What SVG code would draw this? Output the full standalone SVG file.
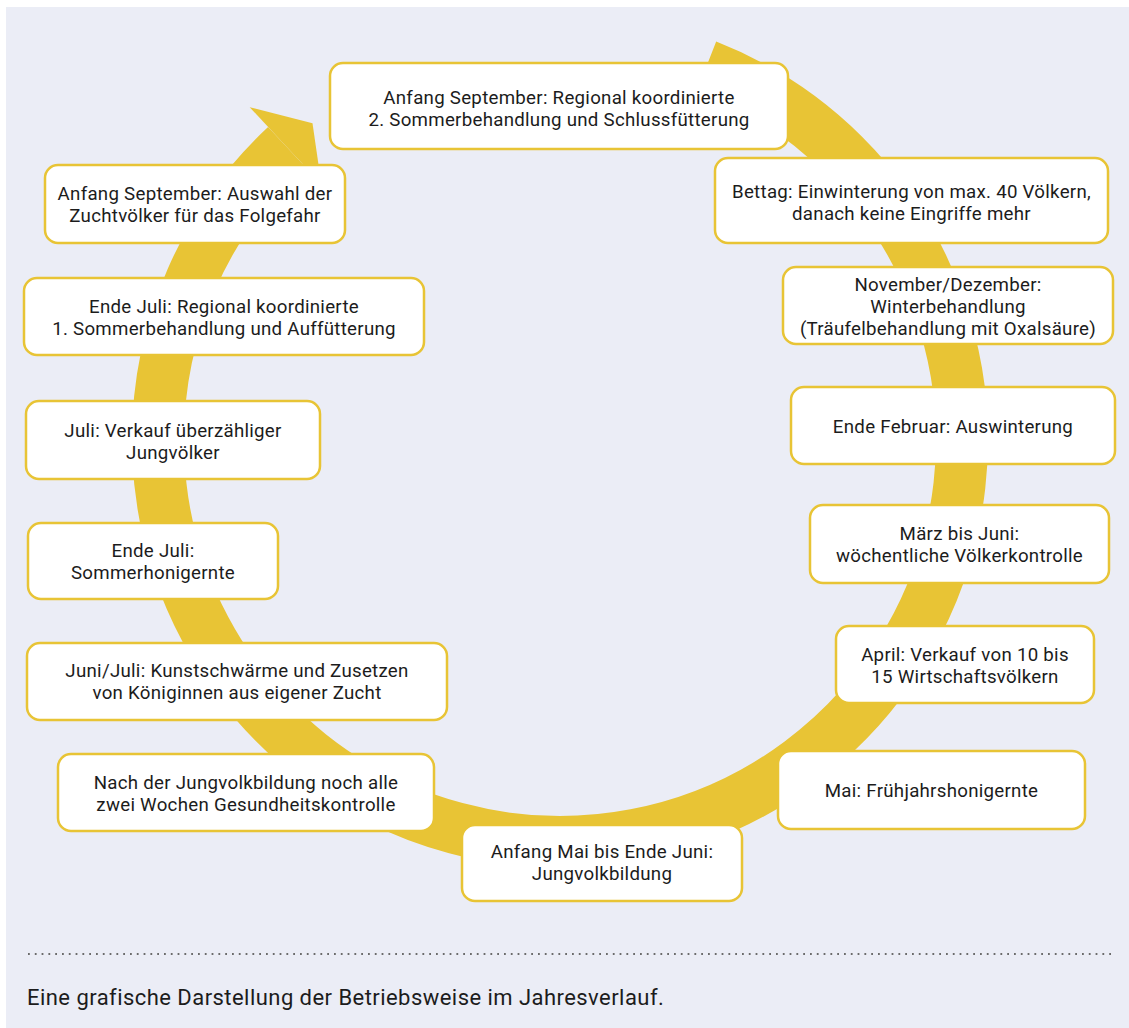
<svg xmlns="http://www.w3.org/2000/svg" width="1129" height="1028" viewBox="0 0 1129 1028">
<style>
.box{fill:#ffffff;stroke:#e8c435;stroke-width:2.5}
.t{font-family:Roboto,"Noto Sans",sans-serif;font-size:18.7px;letter-spacing:0.27px;fill:#1c1c1c;text-anchor:middle}
.cap{font-family:Roboto,"Noto Sans",sans-serif;font-size:22px;letter-spacing:0.45px;fill:#1c1c1c}
</style>
<rect x="0" y="0" width="1129" height="1028" fill="#ffffff"/>
<rect x="6" y="7" width="1123" height="1021" fill="#ebedf6"/>
<g id="connectors">
<path d="M706.7,65.7 A402,402 0 1 1 285.8,146" fill="none" stroke="#e8c435" stroke-width="52"/>
<polygon points="249.7,107.2 312.5,123.2 321.3,184 285.8,146" fill="#e8c435"/>
</g>
<g id="n1"><rect class="box" x="330" y="63" width="458" height="86" rx="13"/>
<text class="t" x="559" y="104">Anfang September: Regional koordinierte</text>
<text class="t" x="559" y="126">2. Sommerbehandlung und Schlussfütterung</text></g>
<g id="n2"><rect class="box" x="715" y="158" width="393" height="85" rx="13"/>
<text class="t" x="911.5" y="197.5">Bettag: Einwinterung von max. 40 Völkern,</text>
<text class="t" x="911.5" y="219.5">danach keine Eingriffe mehr</text></g>
<g id="n3"><rect class="box" x="783" y="267" width="330" height="77" rx="13"/>
<text class="t" x="948" y="291">November/Dezember:</text>
<text class="t" x="948" y="313">Winterbehandlung</text>
<text class="t" x="948" y="335">(Träufelbehandlung mit Oxalsäure)</text></g>
<g id="n4"><rect class="box" x="791" y="387" width="324" height="77" rx="13"/>
<text class="t" x="953" y="432.5">Ende Februar: Auswinterung</text></g>
<g id="n5"><rect class="box" x="810" y="505" width="299" height="78" rx="13"/>
<text class="t" x="959.5" y="540">März bis Juni:</text>
<text class="t" x="959.5" y="562">wöchentliche Völkerkontrolle</text></g>
<g id="n6"><rect class="box" x="836" y="626" width="258" height="77" rx="13"/>
<text class="t" x="965" y="661">April: Verkauf von 10 bis</text>
<text class="t" x="965" y="683">15 Wirtschaftsvölkern</text></g>
<g id="n7"><rect class="box" x="778" y="751" width="307" height="78" rx="13"/>
<text class="t" x="931.5" y="797">Mai: Frühjahrshonigernte</text></g>
<g id="n8"><rect class="box" x="462" y="825" width="280" height="76" rx="13"/>
<text class="t" x="602" y="858">Anfang Mai bis Ende Juni:</text>
<text class="t" x="602" y="880">Jungvolkbildung</text></g>
<g id="n9"><rect class="box" x="58" y="754" width="376" height="77" rx="13"/>
<text class="t" x="246" y="789">Nach der Jungvolkbildung noch alle</text>
<text class="t" x="246" y="811">zwei Wochen Gesundheitskontrolle</text></g>
<g id="n10"><rect class="box" x="27" y="643" width="420" height="77" rx="13"/>
<text class="t" x="237" y="677">Juni/Juli: Kunstschwärme und Zusetzen</text>
<text class="t" x="237" y="699">von Königinnen aus eigener Zucht</text></g>
<g id="n11"><rect class="box" x="28" y="523" width="250" height="76" rx="13"/>
<text class="t" x="153" y="557">Ende Juli:</text>
<text class="t" x="153" y="579">Sommerhonigernte</text></g>
<g id="n12"><rect class="box" x="26" y="401" width="294" height="78" rx="13"/>
<text class="t" x="173" y="436.5">Juli: Verkauf überzähliger</text>
<text class="t" x="173" y="458.5">Jungvölker</text></g>
<g id="n13"><rect class="box" x="24" y="278" width="400" height="77" rx="13"/>
<text class="t" x="224" y="313">Ende Juli: Regional koordinierte</text>
<text class="t" x="224" y="335">1. Sommerbehandlung und Auffütterung</text></g>
<g id="n14"><rect class="box" x="45" y="165" width="300" height="78" rx="13"/>
<text class="t" x="195" y="200">Anfang September: Auswahl der</text>
<text class="t" x="195" y="222">Zuchtvölker für das Folgefahr</text></g>
<line x1="28" y1="954" x2="1112" y2="954" stroke="#6b6b6b" stroke-width="1.8" stroke-dasharray="1.8 5"/>
<text class="cap" x="27" y="1005">Eine grafische Darstellung der Betriebsweise im Jahresverlauf.</text>
</svg>
